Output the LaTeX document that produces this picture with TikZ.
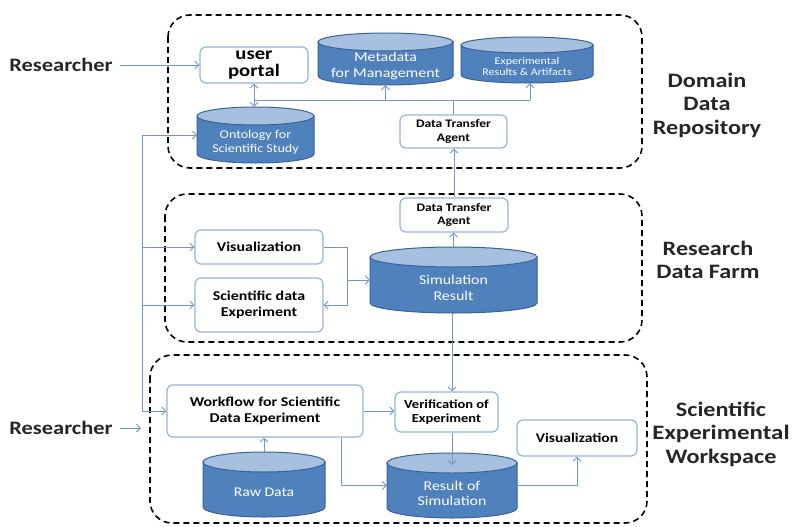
\documentclass[tikz,border=0pt]{standalone}
\usepackage{fontspec}
\setmainfont{Carlito}[FakeStretch=1.18]
\usetikzlibrary{arrows.meta}
\definecolor{cylbody}{HTML}{4F81BD}
\definecolor{cyltop}{HTML}{A7C0E0}
\definecolor{cylline}{HTML}{3A6296}
\definecolor{boxline}{HTML}{95B3D7}
\definecolor{conn}{HTML}{7396C6}
\newcommand\fs[1]{\fontsize{#1}{\dimexpr #1pt*115/100\relax}\selectfont}
\newcommand\mycyl[8]{% name,x1,y1,x2,y2,ry,fontsize,text
 \pgfmathsetmacro\mycx{(#2+#4)/2}
 \pgfmathsetmacro\mycy{(#3+#5)/2}
 \pgfmathsetmacro\myrx{(#4-#2)/2}
 \pgfmathsetmacro\mycw{#4-#2}
 \pgfmathsetmacro\mych{#5-#3}
 \pgfmathsetmacro\myyt{#3+#6}
 \pgfmathsetmacro\myyb{#5-#6}
 \filldraw[fill=cylbody,draw=cylline,line width=1pt] (#2,\myyt) -- (#2,\myyb) arc[start angle=180,end angle=0,x radius=\myrx,y radius=#6] -- (#4,\myyt) -- cycle;
 \filldraw[fill=cyltop,draw=cylline,line width=1pt] (\mycx,\myyt) ellipse[x radius=\myrx,y radius=#6];
 \node[inner sep=0,minimum width=\mycw pt,minimum height=\mych pt] (#1) at (\mycx,\mycy) {};
 \node[cyltext,font=\fs{#7}] at (\mycx,\mycy+0.8*#6) {#8};
}
\tikzset{
 region/.style={draw=black,line width=1.6pt,dash pattern=on 6pt off 4pt,rounded corners=22pt},
 box/.style={draw=boxline,line width=1.2pt,fill=white,rounded corners=6pt,align=center,inner sep=1pt},
 cyltext/.style={text=white,align=center,inner sep=0},
 biglabel/.style={font=\bfseries\fs{20.5},align=center,text=black!85},
 arr/.style={draw=conn,line width=0.9pt,-{Straight Barb[length=4pt,width=8pt]}},
 arrb/.style={draw=conn,line width=0.9pt,{Straight Barb[length=4pt,width=8pt]}-{Straight Barb[length=4pt,width=8pt]}},
 conline/.style={draw=conn,line width=0.9pt},
}
\begin{document}
\begin{tikzpicture}[x=1pt,y=-1pt]
\useasboundingbox (0,0) rectangle (792,527);
% regions
\draw[region] (168,15) rectangle (642,168);
\draw[region] (165,194) rectangle (642,342);
\draw[region] (150,355) rectangle (647,523);
% labels
\node[biglabel,font=\bfseries\fs{19}] (res1) at (61,65) {Researcher};
\node[biglabel,font=\bfseries\fs{19}] (res2) at (61,428) {Researcher};
\node[biglabel] (ddr) at (707,105) {Domain\\Data\\Repository};
\node[biglabel] (rdf) at (708,260) {Research\\Data Farm};
\node[biglabel] (sew) at (721,434) {Scientific\\\scalebox{1.03}[1]{Experimental}\\Workspace};
% boxes
\node[box,minimum width=108pt,minimum height=36pt,font=\bfseries\fs{17.5}] (portal) at (254,65) {user\\[-3pt]portal};
\node[box,minimum width=107pt,minimum height=33pt,font=\bfseries\fs{11.5}] (dta1) at (453.5,131.5) {Data Transfer\\Agent};
\node[box,minimum width=108pt,minimum height=34pt,font=\bfseries\fs{11.5}] (dta2) at (454,215) {Data Transfer\\Agent};
\node[box,minimum width=128pt,minimum height=34pt,font=\bfseries\fs{13.5}] (vis1) at (259,247) {Visualization};
\node[box,minimum width=128pt,minimum height=54pt,font=\bfseries\fs{13.5}] (sci) at (259,305) {Scientific data\\Experiment};
\node[box,minimum width=196pt,minimum height=52pt,font=\bfseries\fs{13.5}] (wf) at (265,411) {Workflow for Scientific\\Data Experiment};
\node[box,minimum width=103pt,minimum height=40pt,font=\bfseries\fs{12.3}] (ver) at (446.5,412) {Verification of\\Experiment};
\node[box,minimum width=120pt,minimum height=36pt,font=\bfseries\fs{13.2}] (vis2) at (577,438) {Visualization};
% cylinders
\mycyl{meta}{318}{33}{453}{85}{9}{13.5}{Metadata\\for Management}
\mycyl{exp}{461}{37}{593}{83}{8}{10.2}{Experimental\\Results \& Artifacts}
\mycyl{onto}{197}{107}{314}{163}{9}{11.9}{Ontology for\\Scientific Study}
\mycyl{sim}{370}{247}{537}{313}{10}{13.5}{Simulation\\Result}
\mycyl{raw}{203}{452}{325}{517}{10}{13.3}{Raw Data}
\mycyl{rsim}{387}{453}{517}{518}{10}{13.5}{Result of\\Simulation}
% coordinates
\coordinate (lb) at (142,411);
\coordinate (bus) at (0,100);
\coordinate (expin) at (530,100);
\coordinate (vj) at (347,280);
\coordinate (r2end) at (141,428);
\coordinate (vx) at (452,0);
\coordinate (rsimin) at (452,465);
% connectors
\draw[arr] ([xshift=4pt]res1.east) -- (portal.west);
\draw[arr] ([xshift=4pt]res2.east) -- (r2end);
\draw[arr] (lb) |- (onto.west);
\draw[arr] (lb |- vis1.west) -- (vis1.west);
\draw[arr] (lb |- sci.west) -- (sci.west);
\draw[arr] (lb) -- (wf.west);
\draw[arrb] (portal.south) -- (portal.south |- onto.north);
\draw[conline] (portal.south |- bus) -- (expin);
\draw[conline] (dta1.north) -- (dta1.north |- bus);
\draw[arr] (meta.south |- bus) -- (meta.south);
\draw[arr] (expin) -- (expin |- exp.south);
\draw[arr] (dta2.north) -- (dta2.north |- dta1.south);
\draw[arr] (sim.north) -- (sim.north |- dta2.south);
\draw[conline] (vis1.east) -| (vj);
\draw[arr] (vj) |- (sci.east);
\draw[arr] (vj) -- (vj -| sim.west);
\draw[arr] (vx |- sim.south) -- (vx |- ver.north);
\draw[arr] (wf.east) -- (wf.east -| ver.west);
\draw[arr] ([xshift=-22pt]wf.south east) |- (rsim.west);
\draw[arr] (raw.north) -- (raw.north |- wf.south);
\draw[arr] (vx |- ver.south) -- (rsimin);
\draw[arr] (rsim.east) -| (vis2.south);
\end{tikzpicture}
\end{document}
